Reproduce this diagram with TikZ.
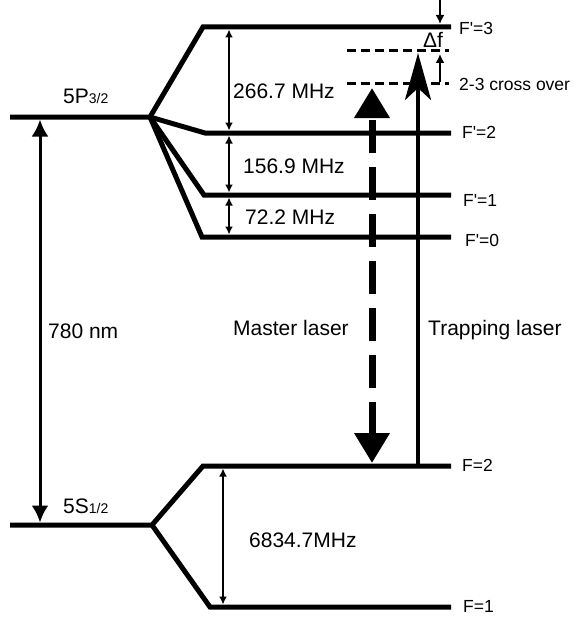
\documentclass[tikz,border=0pt]{standalone}
\usepackage{fontspec}
\setmainfont{Liberation Sans}[Ligatures=TeXOff]
\usetikzlibrary{arrows.meta}
\tikzset{
  level/.style={line width=5pt, line join=miter},
  dim/.style={line width=2pt, {Latex[length=8pt,width=8pt]}-{Latex[length=8pt,width=8pt]}},
  big/.style={font=\fontsize{21}{25}\selectfont, inner sep=0pt, anchor=base west},
  small/.style={font=\fontsize{17.5}{21}\selectfont, inner sep=0pt, anchor=base west},
  cross/.style={line width=3pt, dash pattern=on 9pt off 5pt},
}
\begin{document}
\begin{tikzpicture}[x=1pt,y=-1pt]
\useasboundingbox (0,0) rectangle (579,618);
% coordinates
\coordinate (Pl) at (10,117);
\coordinate (Pb) at (150,117);
\coordinate (F3s) at (203,27);  \coordinate (F3e) at (451,27);
\coordinate (F2s) at (205,133); \coordinate (F2e) at (451,133);
\coordinate (F1s) at (204,195); \coordinate (F1e) at (451,195);
\coordinate (F0s) at (202,237); \coordinate (F0e) at (451,237);
\coordinate (Sl) at (10,525);
\coordinate (Sb) at (152,525);
\coordinate (G2s) at (203,466); \coordinate (G2e) at (451,466);
\coordinate (G1s) at (210,607); \coordinate (G1e) at (451,607);
% levels
\draw[level] (Pl) -- (Pb) -- (F3s) -- (F3e);
\draw[level] (Pb) -- (F2s) -- (F2e);
\draw[level] (Pb) -- (F1s) -- (F1e);
\draw[level] (Pb) -- (F0s) -- (F0e);
\draw[level] (Sl) -- (Sb) -- (G2s) -- (G2e);
\draw[level] (Sb) -- (G1s) -- (G1e);
% hyperfine spacings
\coordinate (a3) at (229,29.5); \coordinate (a2) at (229,130.5);
\coordinate (b2) at (229,135.5); \coordinate (b1) at (229,192.5);
\coordinate (c1) at (229,197.5); \coordinate (c0) at (229,234.5);
\coordinate (d2) at (223,468.5); \coordinate (d1) at (223,604.5);
\draw[dim] (a3) -- (a2);
\draw[dim] (b2) -- (b1);
\draw[dim] (c1) -- (c0);
\draw[dim] (d2) -- (d1);
% 780 nm
\coordinate (n1) at (40,119.5); \coordinate (n2) at (40,522.5);
\draw[line width=3pt, {Latex[length=17pt,width=17pt]}-{Latex[length=17pt,width=17pt]}] (n1) -- (n2);
% cross-over lines
\coordinate (u1) at (347,51); \coordinate (u2) at (449,51);
\coordinate (l1) at (347,83); \coordinate (l2) at (449,83);
\draw[cross] (u1) -- (u2);
\draw[cross] (l1) -- (l2);
% master laser
\coordinate (m1) at (372,463); \coordinate (m2) at (372,88);
\draw[line width=7pt, dash pattern=on 33pt off 14pt, {Triangle[length=30pt,width=34pt]}-{Triangle[length=30pt,width=34pt]}] (m1) -- (m2);
% trapping laser
\coordinate (t1) at (418,464); \coordinate (t2) at (418,53);
\draw[line width=4pt, -{Stealth[length=47pt,width=26pt,inset=12pt]}] (t1) -- (t2);
% delta f arrows
\coordinate (df1) at (440,0); \coordinate (df2) at (440,24);
\coordinate (df3) at (440,82); \coordinate (df4) at (440,54);
\draw[line width=2pt, -{Latex[length=9pt,width=9pt]}] (df1) -- (df2);
\draw[line width=2pt, -{Latex[length=9pt,width=9pt]}] (df3) -- (df4);
% labels
\node[big] (lP) at (63,103) {5P{\fontsize{14}{14}\selectfont 3/2}};
\node[big] (lS) at (63,513) {5S{\fontsize{14}{14}\selectfont 1/2}};
\node[big] (l266) at (233,98) {266.7 MHz};
\node[big] (l156) at (243,173) {156.9 MHz};
\node[big] (l72) at (245,224) {72.2 MHz};
\node[big] (l780) at (48,338) {780 nm};
\node[big] (lml) at (233,335) {Master laser};
\node[big] (ltl) at (428,335) {Trapping laser};
\node[big] (l6834) at (249,547) {6834.7MHz};
\node[big] (ldf) at (423,48) {Δf};
\node[small] (f3) at (459,35) {F'=3};
\node[small] (cr) at (459,90) {2-3 cross over};
\node[small] (f2) at (462,138) {F'=2};
\node[small] (f1) at (463,206) {F'=1};
\node[small] (f0) at (465,246) {F'=0};
\node[small] (g2) at (462,471) {F=2};
\node[small] (g1) at (463,612) {F=1};
\end{tikzpicture}
\end{document}
